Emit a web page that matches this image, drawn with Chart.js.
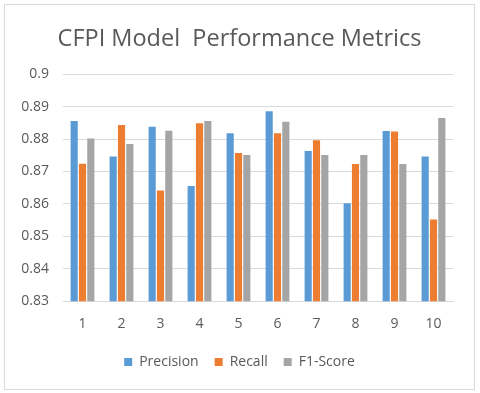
<!DOCTYPE html>
<html>
<head>
<meta charset="utf-8">
<script src="https://cdn.jsdelivr.net/npm/chart.js@4"></script>
<style>
  body { margin: 0; background: #fff; }
  #box { position: absolute; left: 4px; top: 4px; width: 469px; height: 384px; border: 1px solid #d9d9d9; }
</style>
</head>
<body>
<div id="box"><canvas id="myChart" width="469" height="384"></canvas></div>
<script>
const categories = ['1', '2', '3', '4', '5', '6', '7', '8', '9', '10'];
const precision = [0.8856, 0.8746, 0.8838, 0.8655, 0.8818, 0.8886, 0.8763, 0.8602, 0.8825, 0.8746];
const recall = [0.8724, 0.8843, 0.8641, 0.8849, 0.8757, 0.8818, 0.8796, 0.8723, 0.8823, 0.8552];
const f1Score = [0.8802, 0.8785, 0.8826, 0.8856, 0.8751, 0.8853, 0.8751, 0.8751, 0.8723, 0.8865];

const textColor = '#595959';
const fontFamily = '"Open Sans", sans-serif';

function makeSet(label, data, color) {
  return {
    label: label,
    data: data,
    backgroundColor: color,
    barPercentage: 0.86,
    categoryPercentage: 0.64,
  };
}

const ctx = document.getElementById('myChart');

const chart = new Chart(ctx, {
  type: 'bar',
  data: {
    labels: categories,
    datasets: [
      makeSet('Precision', precision, '#5b9bd5'),
      makeSet('Recall', recall, '#ed7d31'),
      makeSet('F1-Score', f1Score, '#a5a5a5'),
    ],
  },
  options: {
    responsive: false,
    animation: false,
    layout: { padding: { left: 0, right: 0, top: 0, bottom: 10 } },
    plugins: {
      title: {
        display: true,
        text: 'CFPI Model  Performance Metrics',
        color: textColor,
        font: { family: fontFamily, size: 23.5, weight: 'normal' },
        padding: { top: 20, bottom: 21 },
      },
      legend: {
        position: 'bottom',
        labels: {
          color: textColor,
          font: { family: fontFamily, size: 14 },
          boxWidth: 8,
          boxHeight: 8,
          padding: 16,
        },
      },
      tooltip: { enabled: false },
    },
    scales: {
      x: {
        grid: { display: false },
        border: { color: '#d9d9d9' },
        ticks: { color: textColor, font: { family: fontFamily, size: 14 }, padding: 6.5 },
      },
      y: {
        min: 0.83,
        max: 0.9,
        border: { display: false },
        grid: { color: '#d9d9d9', lineWidth: 1, tickLength: 0 },
        afterFit: (scale) => { scale.width = 58; },
        ticks: {
          stepSize: 0.01,
          color: textColor,
          font: { family: fontFamily, size: 14 },
          padding: 14,
          callback: (v) => String(parseFloat(v.toFixed(2))),
        },
      },
      // empty right-hand axis, only keeps space so the title stays centred on the whole box
      yRight: {
        position: 'right',
        display: true,
        grid: { display: false },
        border: { display: false },
        ticks: { display: false },
        afterFit: (scale) => { scale.width = 21; },
      },
    },
  },
});
</script>
</body>
</html>
